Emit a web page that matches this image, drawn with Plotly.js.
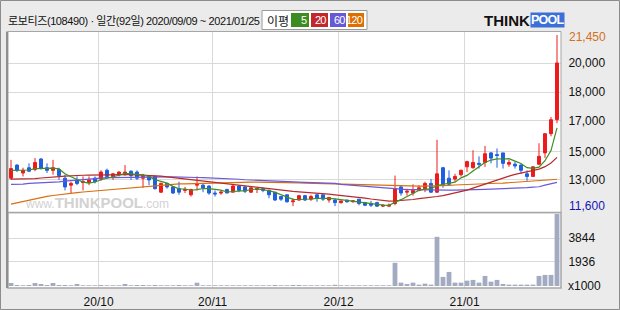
<!DOCTYPE html>
<html><head><meta charset="utf-8">
<script src="https://cdn.plot.ly/plotly-3.0.1.min.js"></script>
<style>html,body{margin:0;padding:0;background:#ebebeb}#c{width:620px;height:310px}</style>
</head><body><div id="c"></div>
<script>
// trading-day index 0..91 (2020/09/09 ~ 2021/01/25)
const dayIndex = Array.from({length:92},(_,i)=>i);
const monthTickIdx = [14.6, 33.6, 54.6, 75.6];
const monthTickText = ['20/10','20/11','20/12','21/01'];

const open = [13250,14000,13550,13850,13750,14350,13850,13700,13750,13250,
12850,13150,13000,13000,13250,13200,13700,13350,13450,13450,
13650,13600,13250,13350,13350,12450,12950,12750,12650,12550,
12300,12850,12850,12800,12400,12400,12600,12450,12800,12750,
12450,12600,12650,12550,12450,12200,12300,11900,12000,12250,
12050,12300,12300,12000,12000,11850,12000,11900,12050,11850,
11800,11850,11650,11650,11800,12750,12450,12400,12550,12650,
12950,12450,13850,13250,13200,13450,13900,13850,14100,14150,
14700,14600,14700,14050,14050,14000,13500,13350,14050,14700,
15800,16600];
const high = [14300,14050,13850,14100,14400,14400,14100,14300,13850,13450,
13050,13350,13350,13350,13350,13700,13800,13550,13650,14000,
13700,13700,13500,13400,13400,13000,12950,12800,13050,12750,
12650,13350,12950,12850,12550,12550,12650,12900,12850,12800,
12700,12700,12700,12600,12450,12200,12300,12100,12300,12300,
12300,12350,12300,12150,12100,11950,12000,12000,12050,11900,
11950,11900,11750,11800,13400,12850,12650,12900,12850,13050,
13200,15450,13900,13700,13500,13750,14250,14850,14500,15100,
14750,14950,14700,14300,14200,14050,13700,13950,15250,15800,
16750,21450];
const low = [13150,13600,13350,13600,13650,13750,13550,13450,13150,12550,
12400,12850,12550,12850,12950,13100,13250,13150,13350,13400,
13150,13150,12700,12850,12600,12400,12650,12350,12300,12400,
12200,12550,12450,12300,12200,12300,12400,12450,12450,12400,
12400,12400,12450,12100,11950,11950,11850,11650,11950,11950,
11950,11900,11950,11850,11650,11800,11850,11850,11700,11650,
11600,11600,11600,11600,11700,12250,12250,12250,12500,12450,
12400,12400,12700,12850,13050,13350,13600,13800,13800,13900,
14100,13850,13800,13900,13800,13500,13100,13350,14000,14400,
15650,16400];
const close = [13800,13700,13700,13650,14150,13800,13700,13850,13400,12750,
12950,12950,13050,13150,13050,13600,13350,13500,13600,13600,
13400,13250,13350,13150,12650,12950,12750,12400,12450,12600,
12600,12950,12700,12400,12350,12450,12400,12800,12550,12500,
12700,12650,12550,12300,12000,12050,11900,11950,12250,12000,
12200,12100,12050,12150,11850,11950,11900,11950,11800,11700,
11700,11650,11700,11700,12650,12400,12500,12550,12700,12950,
12450,13500,12900,12900,13350,13700,14200,14150,14050,14650,
14400,14550,14100,14150,13950,13700,13350,13900,14500,15800,
16600,19850];

const ma5 = [13700,13700,13720,13720,13800,13800,13800,13830,13780,13500,
13330,13180,13020,12970,13030,13160,13240,13330,13420,13530,
13490,13470,13440,13350,13160,13070,12970,12780,12640,12630,
12560,12600,12660,12650,12600,12570,12460,12480,12510,12540,
12590,12640,12590,12540,12440,12310,12160,12040,12030,12030,
12060,12100,12120,12100,12070,12020,11980,11960,11890,11860,
11810,11760,11710,11690,11880,12020,12190,12360,12560,12620,
12630,12830,12900,12940,13020,13270,13410,13660,13890,14150,
14290,14360,14350,14370,14230,14090,13850,13810,13880,14250,
14830,16130];
const ma20 = [13200,13200,13210,13220,13230,13260,13300,13320,13340,13370,
13400,13410,13420,13430,13440,13450,13450,13460,13460,13460,
13450,13440,13430,13420,13390,13370,13330,13290,13240,13200,
13150,13100,13060,13020,13000,12960,12910,12880,12850,12810,
12770,12730,12690,12650,12600,12560,12510,12490,12470,12450,
12430,12410,12380,12340,12300,12270,12240,12200,12150,12110,
12060,12010,11970,11940,11950,11970,12000,12030,12080,12110,
12140,12200,12250,12320,12400,12480,12570,12680,12800,12910,
13030,13150,13270,13370,13470,13550,13610,13680,13770,13910,
14120,14440];
const ma60 = [12900,12900,12910,12950,12960,12970,12980,13010,13040,13080,
13110,13150,13200,13230,13260,13270,13280,13280,13290,13290,
13300,13300,13310,13320,13330,13330,13330,13330,13330,13330,
13300,13290,13280,13270,13260,13240,13230,13210,13190,13160,
13140,13120,13100,13080,13060,13050,13040,13030,13020,13010,
13000,12990,12980,12960,12950,12900,12870,12850,12820,12790,
12760,12730,12700,12680,12650,12610,12600,12590,12580,12570,
12570,12570,12570,12570,12570,12570,12580,12590,12600,12610,
12620,12630,12640,12650,12670,12690,12710,12740,12760,12850,
12930,13010];
const ma120 = [11770,11850,11930,12010,12090,12160,12210,12260,12310,12350,
12380,12420,12460,12490,12520,12550,12590,12620,12650,12680,
12710,12740,12770,12800,12830,12860,12880,12900,12920,12930,
12940,12960,12980,13000,13010,13020,13030,13030,13030,13030,
13030,13020,13020,13020,13010,13010,13000,12990,12980,12970,
12960,12950,12940,12920,12910,12900,12890,12870,12860,12850,
12840,12830,12820,12810,12800,12800,12800,12800,12800,12800,
12800,12810,12820,12840,12860,12880,12900,12920,12930,12940,
12950,12960,12970,12990,13000,13020,13040,13070,13100,13130,
13160,13190];
// volume, x1000 shares
const volume = [240,80,60,80,240,160,80,240,80,80,
60,160,60,60,60,80,60,60,60,160,
60,80,80,60,80,60,60,60,80,60,
60,265,60,60,60,60,60,60,60,60,
60,60,60,60,80,60,60,80,80,60,
60,60,60,60,100,60,60,60,60,60,
60,60,60,60,1860,270,160,270,110,190,
110,3950,730,1130,270,270,430,490,270,810,
350,490,160,110,110,110,110,110,810,890,
890,5800];

const priceGridVals = [19830,18170,16530,14790,13170];
const priceGridText = ['20,000','18,000','17,000','15,000','13,000'];
const volGridVals = [1936,3844];
const volGridText = ['1936','3844'];
const priceMax = 21450, priceMin = 11600;

// pixel helpers for decorations (plot area: x 8..561, y 32..288)
const PX = p => (p-8)/553;
const PY = p => (288-p)/256;

const traces = [
  {type:'candlestick', x:dayIndex, open:open, high:high, low:low, close:close,
   xaxis:'x', yaxis:'y', hoverinfo:'skip', whiskerwidth:0,
   increasing:{line:{color:'#ee1b1b', width:1}, fillcolor:'#ee1b1b'},
   decreasing:{line:{color:'#1f5fe3', width:1}, fillcolor:'#1f5fe3'}},
  {type:'scatter', mode:'lines', x:dayIndex, y:ma120, xaxis:'x', yaxis:'y', line:{color:'#d9700e', width:1.2}},
  {type:'scatter', mode:'lines', x:dayIndex, y:ma60, xaxis:'x', yaxis:'y', line:{color:'#6a5ad8', width:1.2}},
  {type:'scatter', mode:'lines', x:dayIndex, y:ma20, xaxis:'x', yaxis:'y', line:{color:'#b82a2a', width:1.2}},
  {type:'scatter', mode:'lines', x:dayIndex, y:ma5, xaxis:'x', yaxis:'y', line:{color:'#3e8e22', width:1.2}},
  {type:'bar', x:dayIndex, y:volume, xaxis:'x2', yaxis:'y2', width:0.8,
   marker:{color:'#a3abc2', line:{width:0}}, hoverinfo:'skip'}
];

const F = 'Liberation Sans, Arial, sans-serif';
const K = s => '<span style="font-family:Noto Sans CJK KR;font-size:11px;letter-spacing:-0.4px">' + s + '</span>';
const S = s => '<span style="letter-spacing:-0.4px">' + s + '</span>';
const T = s => '<span style="letter-spacing:-0.8px">' + s + '</span>';

const layout = {
  width:620, height:310,
  margin:{l:8, r:59, t:32, b:22},
  paper_bgcolor:'#ebebeb', plot_bgcolor:'#ffffff',
  showlegend:false,
  xaxis:{domain:[0,1], anchor:'y', range:[-0.5,91.667], tickvals:monthTickIdx, ticktext:monthTickText,
    showticklabels:false, showgrid:true, gridcolor:'#d9d9d9', gridwidth:1, zeroline:false, showline:false,
    rangeslider:{visible:false}, fixedrange:true, ticks:''},
  xaxis2:{domain:[0,1], anchor:'y2', range:[-0.5,91.667], tickvals:monthTickIdx, ticktext:monthTickText,
    showgrid:true, gridcolor:'#d9d9d9', zeroline:false, showline:false, ticks:'outside', ticklen:3,
    tickcolor:'rgba(0,0,0,0)', tickfont:{family:F, size:12, color:'#111'}, fixedrange:true},
  yaxis:{domain:[PY(213),1], anchor:'x', side:'right', range:[11257,21622],
    tickvals:priceGridVals, ticktext:priceGridText, showgrid:true, gridcolor:'#d9d9d9',
    zeroline:false, showline:false, ticks:'outside', ticklen:4, tickcolor:'rgba(0,0,0,0)',
    tickfont:{family:F, size:12, color:'#111'}, fixedrange:true},
  yaxis2:{domain:[0,PY(214)], anchor:'x2', side:'right', range:[-160,5780],
    tickvals:volGridVals, ticktext:volGridText, showgrid:true, gridcolor:'#d9d9d9',
    zeroline:false, showline:false, ticks:'outside', ticklen:4, tickcolor:'rgba(0,0,0,0)',
    tickfont:{family:F, size:12, color:'#111'}, fixedrange:true},
  shapes:[
    {type:'rect', xref:'paper', yref:'paper', x0:PX(0.5), x1:PX(619.5), y0:PY(309.5), y1:PY(0.5),
     line:{color:'#8c8c8c', width:1}, fillcolor:'rgba(0,0,0,0)'},
    {type:'rect', xref:'paper', yref:'paper', x0:PX(8), x1:PX(561), y0:PY(212.5), y1:PY(31.5),
     line:{color:'#a6a6a6', width:1}, fillcolor:'rgba(0,0,0,0)'},
    {type:'rect', xref:'paper', yref:'paper', x0:PX(8), x1:PX(561), y0:PY(288), y1:PY(212.5),
     line:{color:'#a6a6a6', width:1.5}, fillcolor:'rgba(0,0,0,0)'},
    {type:'line', xref:'paper', yref:'paper', x0:PX(7), x1:PX(7), y0:PY(288), y1:PY(31.5),
     line:{color:'#8f8f8f', width:2}},
    {type:'rect', xref:'paper', yref:'paper', x0:PX(262), x1:PX(367), y0:PY(29.5), y1:PY(10.5),
     line:{color:'#9a9a9a', width:1}, fillcolor:'#ffffff'},
    {type:'rect', xref:'paper', yref:'paper', x0:PX(291), x1:PX(309), y0:PY(27), y1:PY(13),
     line:{width:0}, fillcolor:'#3c8c22'},
    {type:'rect', xref:'paper', yref:'paper', x0:PX(311), x1:PX(328), y0:PY(27), y1:PY(13),
     line:{width:0}, fillcolor:'#c1272d'},
    {type:'rect', xref:'paper', yref:'paper', x0:PX(330), x1:PX(346), y0:PY(27), y1:PY(13),
     line:{width:0}, fillcolor:'#6559d6'},
    {type:'rect', xref:'paper', yref:'paper', x0:PX(348), x1:PX(364), y0:PY(27), y1:PY(13),
     line:{width:0}, fillcolor:'#dd6f00'}
  ],
  annotations:[
    {xref:'paper', yref:'paper', x:PX(6), y:PY(19.5), xanchor:'left', yanchor:'middle', showarrow:false,
     text:K('로보티즈')+S('(108490) · ')+K('일간')+S('(92')+K('일')+S(') 2020/09/09 ~ 2021/01/25'),
     font:{family:F, size:11, color:'#111'}},
    {xref:'paper', yref:'paper', x:PX(265), y:PY(20), xanchor:'left', yanchor:'middle', showarrow:false,
     text:'이평', font:{family:'Noto Sans CJK KR', size:12, color:'#111'}},
    {xref:'paper', yref:'paper', x:PX(309), y:PY(20), xanchor:'right', yanchor:'middle', showarrow:false,
     text:'5', font:{family:F, size:11, color:'#fff'}},
    {xref:'paper', yref:'paper', x:PX(328), y:PY(20), xanchor:'right', yanchor:'middle', showarrow:false,
     text:T('20'), font:{family:F, size:11, color:'#fff'}},
    {xref:'paper', yref:'paper', x:PX(346.5), y:PY(20), xanchor:'right', yanchor:'middle', showarrow:false,
     text:T('60'), font:{family:F, size:11, color:'#fff'}},
    {xref:'paper', yref:'paper', x:PX(365), y:PY(20), xanchor:'right', yanchor:'middle', showarrow:false,
     text:T('120'), font:{family:F, size:11, color:'#fff'}},
    {xref:'paper', yref:'paper', x:PX(482), y:PY(20), xanchor:'left', yanchor:'middle', showarrow:false,
     text:'<b>THINK</b>', font:{family:F, size:15, color:'#111'}},
    {xref:'paper', yref:'paper', x:PX(530), y:PY(20), xanchor:'left', yanchor:'middle', showarrow:false,
     text:'<b>'+T('POOL')+'</b>', bgcolor:'#3d6fd9', borderpad:0, font:{family:F, size:12.5, color:'#fff'}},
    {xref:'paper', yref:'paper', x:PX(23), y:PY(202), xanchor:'left', yanchor:'middle', showarrow:false,
     text:'www.<b><span style="font-size:15px">THINKPOOL</span></b>.com', font:{family:F, size:12, color:'#d2d2d2'}},
    {xref:'paper', yref:'y', x:PX(567), y:priceMax, xanchor:'left', yanchor:'middle', showarrow:false, yshift:-2,
     text:'21,450', font:{family:F, size:12, color:'#d4701a'}},
    {xref:'paper', yref:'y', x:PX(567), y:priceMin, xanchor:'left', yanchor:'middle', showarrow:false, yshift:1,
     text:'11,600', font:{family:F, size:12, color:'#1515b8'}},
    {xref:'paper', yref:'y2', x:PX(566), y:0, xanchor:'left', yanchor:'middle', showarrow:false,
     text:'x1000', font:{family:F, size:12, color:'#111'}}
  ]
};

Plotly.newPlot('c', traces, layout, {staticPlot:true, displayModeBar:false});
</script></body></html>
